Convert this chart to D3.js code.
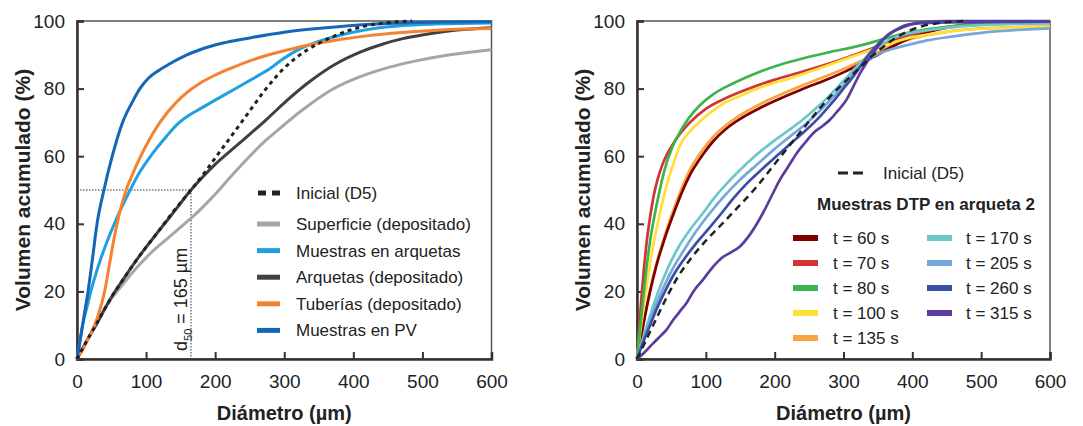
<!DOCTYPE html>
<html lang="es">
<head>
<meta charset="UTF-8">
<title>Volumen acumulado - Diámetro</title>
<script src="https://cdn.jsdelivr.net/npm/d3@7/dist/d3.min.js"></script>
<style>
  body { margin: 0; background: #fff; }
  text { font-family: "Liberation Sans", Arial, sans-serif; fill: #222; }
</style>
</head>
<body>
<script>

// ---- datos: [diámetro (µm), volumen acumulado (%)] ----
const xTicks = [0, 100, 200, 300, 400, 500, 600];
const yTicks = [0, 20, 40, 60, 80, 100];
const d50 = 165;

// panel izquierdo
const inicialL = [[0,0],[10,3.8],[20,7.5],[30,11],[40,14.8],[52,19],[65,23],[80,27.5],[96,32],[115,37],[139,43.5],[165,50],[185,55.2],[202,60],[220,65],[238,70],[255,74.8],[270,79],[285,82.8],[298,85.7],[315,88.8],[332,91.3],[350,93.4],[371,95.4],[395,97.3],[419,98.6],[450,99.5],[485,100]];
const superficie = [[0,0],[10,3.8],[20,7.5],[30,11],[40,14.8],[52,18.5],[62,21],[80,25.5],[105,31],[130,35.5],[163,41.3],[180,44.5],[199,48.5],[225,54.5],[250,60],[274,64.8],[300,69.3],[322,73],[345,76.5],[370,79.8],[394,82.2],[419,84.2],[450,86.2],[491,88.2],[540,90],[600,91.5]];
const muestrasArq = [[0,0],[4,5],[8,10],[14,15],[20,20],[27,25],[35,30],[44,35],[54,40],[65,45],[77,50],[90,55],[103,59],[115,62.3],[130,66],[144,69.2],[160,71.8],[178,74],[200,76.6],[226,79.6],[255,83],[280,86],[295,88.3],[309,90.2],[325,92],[342,93.4],[370,95.2],[396,96.5],[430,97.8],[468,98.6],[520,99.1],[600,99.4]];
const arquetas = [[0,0],[10,3.8],[20,7.5],[30,11],[40,14.8],[52,19],[65,23],[80,27.5],[96,32],[115,37],[139,43.2],[165,50],[197,57],[236,64],[275,71],[304,76.5],[335,81.8],[372,87],[410,90.8],[443,93.2],[470,94.7],[515,96.4],[550,97.3],[600,98]];
const tuberias = [[0,0],[10,3.5],[20,7.5],[30,12.5],[40,20],[47,28],[54,36],[62,43.5],[72,50.5],[80,54.5],[91,59.5],[105,65],[120,70],[144,76],[160,79],[178,81.6],[200,84],[226,86.3],[250,88.2],[274,89.8],[300,91.2],[337,93],[380,94.5],[419,95.6],[470,96.6],[515,97.2],[560,97.6],[600,97.8]];
const muestrasPV = [[0,0],[5,6],[10,12.5],[16,20],[22,29],[29,40],[39,50],[51,60],[66,70],[80,76],[91,80],[103,83],[120,85.6],[140,88],[159,90],[178,91.5],[210,93.4],[250,95],[300,96.7],[360,98],[420,99],[480,99.5],[540,99.7],[600,99.8]];

// panel derecho
const inicialR = [[0,0],[10,4.2],[20,8.5],[30,12.8],[45,19],[60,24.5],[80,30.2],[100,35],[120,39.2],[140,43.5],[174,51],[207,59.5],[228,64.8],[246,69.3],[265,74],[285,78.6],[305,82.6],[324,86.3],[345,90.2],[367,93.8],[390,96.6],[415,98.5],[445,99.5],[474,100]];
const t60 = [[0,0],[5,5.5],[10,11],[19,20],[28,27.5],[40,35.5],[55,44],[65,49.2],[77,54.5],[95,60.3],[111,64.5],[130,68.2],[149.5,71],[178,74.2],[207.5,77],[240,79.8],[275,82.6],[300,84.8],[324,87.2],[345,89.5],[367,92],[400,95.2],[450,98],[500,99.2],[600,99.7]];
const t70 = [[0,0],[3,9],[6.8,19],[10,26.5],[14,34.5],[19,42],[24,48],[30,53.2],[36,57],[43,60.3],[55,64.5],[77,70],[100,74],[125,76.8],[160,79.8],[198,82.5],[235,84.7],[270,86.8],[305,89.2],[343,92],[370,94.2],[400,96.2],[450,98.2],[500,99.2],[600,99.7]];
const t80 = [[0,0],[3,6],[6,12],[9,18],[13,25.5],[17,32],[21,37.5],[26,43],[31,48],[37,53.5],[43,58],[50,62],[62,67],[75,71.2],[91,75],[110,78.2],[130,80.6],[155,83],[178.5,85],[210,87.2],[246,89.2],[280,90.8],[319,92.5],[345,93.9],[367,95.2],[400,96.8],[450,98.3],[500,99],[550,99.3],[600,99.5]];
const t100 = [[0,0],[4,7],[8,13],[13,20],[18,27],[24,34],[33.4,43.2],[40,49],[50,56],[62,63],[80,68],[101,72],[125,75.5],[149.5,77.8],[185,80.8],[222,83],[258,85.5],[295,88.2],[320,90],[343,91.6],[370,93.5],[400,95.2],[450,96.8],[500,97.7],[600,98.3]];
const t135 = [[0,0],[5,5.8],[10,11.3],[19,20.3],[28,28],[40,36.3],[55,45.2],[65,50.5],[77,56],[95,61.8],[111,65.8],[130,69.3],[149.5,72.1],[178,75.3],[207.5,78.1],[240,80.9],[275,83.7],[300,85.8],[324,88],[345,90.2],[367,92.4],[400,94.8],[450,96.8],[500,97.8],[600,98.4]];
const t170 = [[0,0],[5,3.5],[10,7],[20,13.5],[31,20],[45,27],[60,33],[78,38.5],[96,43.2],[112,47.6],[130,51.8],[150,56],[174,60.5],[198,64.4],[222,67.9],[242,71],[261,74.3],[280,78],[295,81.2],[310,84.5],[324,87.5],[340,90.5],[357,93.3],[380,95.5],[420,97.2],[460,98.2],[500,98.8],[600,99.3]];
const t205 = [[0,0],[5,3],[10,6],[20,12],[36,20],[50,26],[66,31.5],[85,37.5],[106,43.2],[128,48.5],[149.5,53],[174,57.5],[198,61.8],[222,65.8],[246,69.7],[266,73.5],[285,77.6],[302,81.5],[319,85.5],[336,88.5],[353,90.5],[372,91.8],[391,92.8],[420,94.2],[454,95.3],[500,96.5],[575,97.6],[600,97.8]];
const t260 = [[0,0],[5,2.8],[10,5.5],[20,10.5],[30,15.5],[40.6,20],[55,25.5],[70,30],[85,34],[103,38.3],[123,43.2],[140,47.5],[159,51.8],[178,55.5],[198,59.2],[222,63.5],[246,67.8],[266,71.8],[285,76.2],[300,80],[314,83.5],[326,87],[338,90.4],[352,93.5],[367,96.3],[380,97.8],[391,98.8],[420,99.4],[450,99.6],[600,99.8]];
const t315 = [[0,0],[10,1.8],[23.7,4.7],[35,7],[43,8.7],[52.7,11.6],[62.4,14.1],[72,16.6],[82,20],[96,23.5],[111,27.4],[123,29.9],[136,31.5],[149.5,33.3],[164,36.8],[183,43.2],[195,48],[207.5,53],[220,57],[232,60.9],[245,64.2],[256,66.8],[270,69],[280,70.7],[292,73.5],[304,76.6],[314,80.5],[324,84.5],[333,87.5],[343,90.4],[352,93],[362,95.4],[372,96.8],[382,97.8],[398,99],[415,99.7],[450,100],[600,100]];

// ---- series y estilos ----
const leftSeries = [
  { label: 'Superficie (depositado)', data: superficie, color: '#a6a6a6' },
  { label: 'Muestras en arquetas',    data: muestrasArq, color: '#1fa0df' },
  { label: 'Arquetas (depositado)',   data: arquetas, color: '#404040' },
  { label: 'Tuberías (depositado)',   data: tuberias, color: '#f58232' },
  { label: 'Muestras en PV',          data: muestrasPV, color: '#1565b8' }
];
const rightSeries = [
  { label: 't = 60 s',  data: t60,  color: '#800000' },
  { label: 't = 70 s',  data: t70,  color: '#d03535' },
  { label: 't = 80 s',  data: t80,  color: '#3cb44b' },
  { label: 't = 100 s', data: t100, color: '#ffe135' },
  { label: 't = 135 s', data: t135, color: '#f9a440' },
  { label: 't = 170 s', data: t170, color: '#6cc8c8' },
  { label: 't = 205 s', data: t205, color: '#74a7db' },
  { label: 't = 260 s', data: t260, color: '#3a4ea6' },
  { label: 't = 315 s', data: t315, color: '#5c3b9f' }
];
// orden de dibujo del panel derecho (t = 135 s debajo de t = 60 s)
const rightDrawOrder = [4, 0, 1, 3, 2, 5, 6, 7, 8];

const W = 1083, H = 426;
const yTop = 21, yBot = 359;

const svg = d3.select('body').append('svg')
  .attr('width', W).attr('height', H);

function panel(x0, x1, titleX) {
  const x = d3.scaleLinear().domain([0, 600]).range([x0, x1]);
  const y = d3.scaleLinear().domain([0, 100]).range([yBot, yTop]);
  const g = svg.append('g');

  // marco
  g.append('rect')
    .attr('x', x0).attr('y', yTop)
    .attr('width', x1 - x0).attr('height', yBot - yTop)
    .attr('fill', 'none').attr('stroke', '#555').attr('stroke-width', 1.5);

  // ejes con ticks hacia dentro
  const xAxis = d3.axisBottom(x).tickValues(xTicks).tickSize(-7).tickPadding(16);
  const yAxis = d3.axisLeft(y).tickValues(yTicks).tickSize(-7).tickPadding(12);
  const gx = g.append('g').attr('transform', 'translate(0,' + yBot + ')').call(xAxis);
  const gy = g.append('g').attr('transform', 'translate(' + x0 + ',0)').call(yAxis);
  [gx, gy].forEach(a => {
    a.select('.domain').attr('stroke', '#333').attr('stroke-width', 2.5);
    a.selectAll('.tick line').attr('stroke', '#333').attr('stroke-width', 2);
    a.selectAll('.tick text').style('font-size', '19px').attr('fill', '#222');
  });

  g.append('text')
    .attr('x', (x0 + x1) / 2).attr('y', 420)
    .attr('text-anchor', 'middle')
    .style('font-size', '20px').style('font-weight', 'bold')
    .text('Diámetro (µm)');

  g.append('text')
    .attr('transform', 'translate(' + titleX + ',' + ((yTop + yBot) / 2) + ') rotate(-90)')
    .attr('text-anchor', 'middle')
    .style('font-size', '21px').style('font-weight', 'bold')
    .text('Volumen acumulado (%)');

  const line = d3.line()
    .x(d => x(d[0])).y(d => y(d[1]))
    .curve(d3.curveMonotoneX);

  return { x, y, g, line };
}

// ---------------- panel izquierdo ----------------
const L = panel(77, 491.5, 30);

// líneas de d50
L.g.append('path')
  .attr('d', 'M' + L.x(0) + ',' + L.y(50) + 'H' + L.x(d50) + 'V' + L.y(0))
  .attr('fill', 'none').attr('stroke', '#333').attr('stroke-width', 1)
  .attr('stroke-dasharray', '1.5,1.5');

const d50Text = L.g.append('text')
  .attr('transform', 'translate(' + (L.x(d50) - 4) + ',' + (L.y(0) - 8) + ') rotate(-90)')
  .style('font-size', '18px');
d50Text.append('tspan').text('d');
d50Text.append('tspan').attr('dy', 5).style('font-size', '11px').text('50');
d50Text.append('tspan').attr('dy', -5).text(' = 165 µm');

leftSeries.forEach(s => {
  L.g.append('path')
    .datum(s.data)
    .attr('fill', 'none')
    .attr('stroke', s.color)
    .attr('stroke-width', 3)
    .attr('d', L.line);
});
L.g.append('path')
  .datum(inicialL)
  .attr('fill', 'none')
  .attr('stroke', '#222')
  .attr('stroke-width', 3)
  .attr('stroke-dasharray', '4,4')
  .attr('d', L.line);

// leyenda izquierda
const legL = L.g.append('g');
legL.append('line')
  .attr('x1', 258).attr('x2', 280).attr('y1', 193).attr('y2', 193)
  .attr('stroke', '#222').attr('stroke-width', 5).attr('stroke-dasharray', '8,6');
legL.append('text').attr('x', 296).attr('y', 193).attr('dy', '0.35em')
  .style('font-size', '17px').text('Inicial (D5)');
leftSeries.forEach((s, i) => {
  const yy = 224 + i * 26.6;
  legL.append('line')
    .attr('x1', 257).attr('x2', 280).attr('y1', yy).attr('y2', yy)
    .attr('stroke', s.color).attr('stroke-width', 5);
  legL.append('text').attr('x', 296).attr('y', yy).attr('dy', '0.35em')
    .style('font-size', '17px').text(s.label);
});

// ---------------- panel derecho ----------------
const R = panel(637, 1050, 590);

rightDrawOrder.forEach(i => {
  const s = rightSeries[i];
  R.g.append('path')
    .datum(s.data)
    .attr('fill', 'none')
    .attr('stroke', s.color)
    .attr('stroke-width', 2.7)
    .attr('d', R.line);
});
R.g.append('path')
  .datum(inicialR)
  .attr('fill', 'none')
  .attr('stroke', '#222')
  .attr('stroke-width', 2.5)
  .attr('stroke-dasharray', '7,5')
  .attr('d', R.line);

// leyenda derecha
const legR = R.g.append('g');
legR.append('line')
  .attr('x1', 838).attr('x2', 863).attr('y1', 173).attr('y2', 173)
  .attr('stroke', '#222').attr('stroke-width', 3).attr('stroke-dasharray', '10,5');
legR.append('text').attr('x', 883).attr('y', 173).attr('dy', '0.35em')
  .style('font-size', '17px').text('Inicial (D5)');
legR.append('text').attr('x', 817).attr('y', 204).attr('dy', '0.35em')
  .style('font-size', '17px').style('font-weight', 'bold').text('Muestras DTP en arqueta 2');
rightSeries.forEach((s, i) => {
  const col = i < 5 ? 0 : 1;
  const row = i < 5 ? i : i - 5;
  const yy = 238 + row * 25;
  const lx = col === 0 ? 793 : 927;
  const tx = col === 0 ? 833 : 966;
  legR.append('line')
    .attr('x1', lx).attr('x2', lx + 25).attr('y1', yy).attr('y2', yy)
    .attr('stroke', s.color).attr('stroke-width', 6);
  legR.append('text').attr('x', tx).attr('y', yy).attr('dy', '0.35em')
    .style('font-size', '17px').text(s.label);
});

</script>
</body>
</html>
